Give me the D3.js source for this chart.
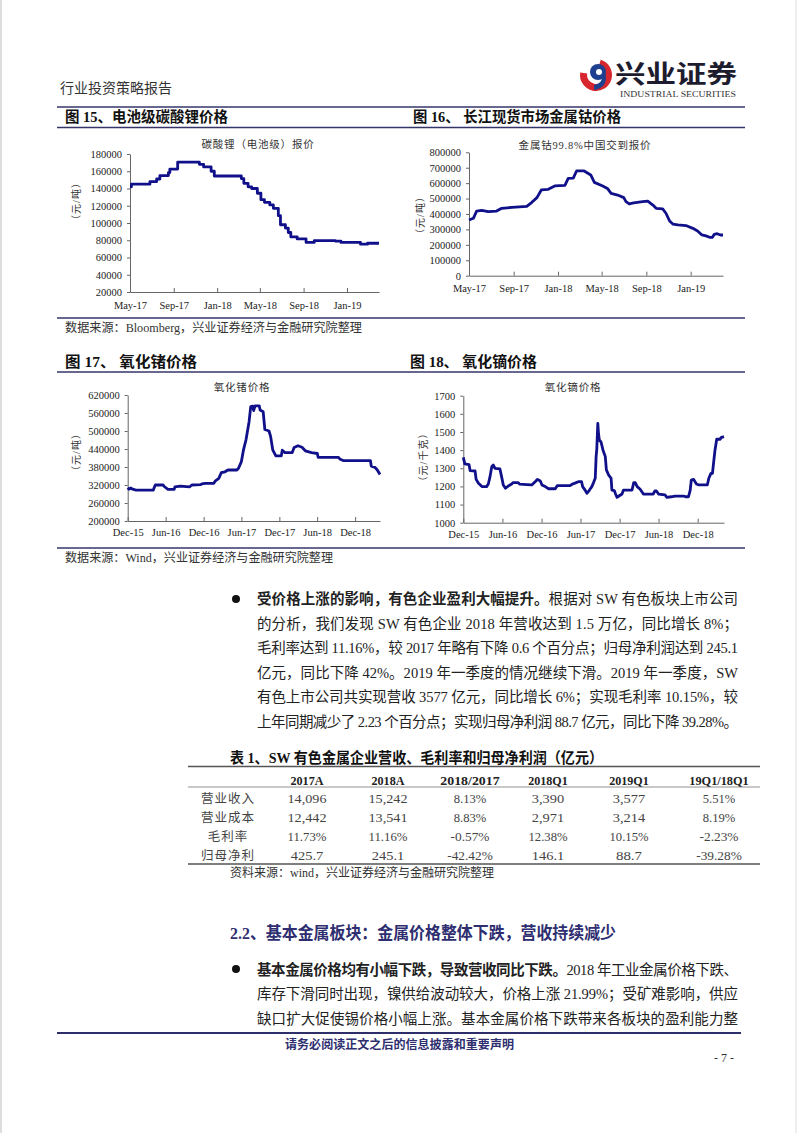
<!DOCTYPE html>
<html><head><meta charset="utf-8">
<script src="https://cdn.jsdelivr.net/npm/d3@7"></script>
<style>
body{margin:0;background:#fff}
svg{display:block}
text{font-family:"Liberation Serif","Noto Sans CJK SC",serif}
</style>
</head><body><script>
// ---------------- DATA ----------------
const lithium = [
["2017-05-01",142000],["2017-05-05",145000],["2017-06-26",148000],["2017-07-15",151000],
["2017-07-24",155000],["2017-08-17",158500],["2017-08-21",162500],["2017-09-12",170500],
["2017-11-12",168000],["2017-11-24",165000],["2017-12-15",160000],["2017-12-24",154500],
["2018-03-10",151500],["2018-03-17",146000],["2018-03-29",142000],["2018-04-08",140000],
["2018-04-24",134500],["2018-05-04",127000],["2018-05-14",124000],["2018-05-29",121000],
["2018-06-08",117000],["2018-06-22",108500],["2018-06-28",98000],["2018-07-12",94000],
["2018-07-20",89000],["2018-07-27",84000],["2018-08-14",81500],["2018-09-08",77500],
["2018-10-01",79500],["2018-11-29",79000],["2018-12-15",77500],["2019-02-08",75500],
["2019-02-28",76500],["2019-04-01",76500]];
const cobalt = [
["2017-05-01",361000],["2017-05-13",372000],["2017-05-22",419000],["2017-06-05",424000],
["2017-06-23",415000],["2017-07-16",419000],["2017-07-30",437000],["2017-08-27",443000],
["2017-10-07",450000],["2017-10-21",476000],["2017-11-04",506000],["2017-11-16",556000],
["2017-12-05",560000],["2017-12-23",582000],["2018-01-20",586000],["2018-01-29",631000],
["2018-02-12",633000],["2018-02-21",679000],["2018-03-14",679000],["2018-04-01",653000],
["2018-04-11",605000],["2018-05-04",582000],["2018-05-17",566000],["2018-05-27",534000],
["2018-06-14",523000],["2018-07-01",506000],["2018-07-07",480000],["2018-07-16",465000],
["2018-07-28",472000],["2018-08-22",480000],["2018-09-05",484000],["2018-09-19",458000],
["2018-09-28",437000],["2018-10-16",433000],["2018-10-25",405000],["2018-11-04",355000],
["2018-11-13",335000],["2018-11-27",329000],["2018-12-19",325000],["2019-01-07",307000],
["2019-01-20",290000],["2019-02-01",264000],["2019-02-12",258000],["2019-02-22",249000],
["2019-03-02",249000],["2019-03-07",268000],["2019-03-15",272000],["2019-03-24",264000],
["2019-03-31",264000]];
const germanium = [
["2015-12-01",311000],["2015-12-08",306000],["2015-12-15",310000],["2015-12-25",306000],
["2016-01-10",303000],["2016-04-02",303000],["2016-04-12",320000],["2016-05-20",320000],
["2016-05-25",315000],["2016-06-12",305500],["2016-07-12",305500],["2016-07-16",314000],
["2016-08-10",316500],["2016-09-25",314000],["2016-10-05",320000],["2016-11-15",321000],
["2016-11-22",323500],["2016-12-09",325500],["2017-01-19",325500],["2017-01-27",334000],
["2017-02-12",342000],["2017-02-24",361000],["2017-03-14",364000],["2017-03-28",370000],
["2017-05-10",370000],["2017-05-18",376000],["2017-06-01",398000],["2017-06-11",437000],
["2017-06-23",470000],["2017-07-08",531000],["2017-07-16",581000],["2017-07-26",583000],
["2017-07-30",568000],["2017-08-06",584000],["2017-08-26",584000],["2017-08-30",570000],
["2017-09-14",564000],["2017-09-22",505000],["2017-10-12",500000],["2017-10-20",481000],
["2017-10-30",437000],["2017-11-14",417000],["2017-12-10",417000],["2017-12-15",436000],
["2017-12-28",428000],["2018-02-01",428000],["2018-02-10",445000],["2018-03-01",451000],
["2018-03-20",446000],["2018-04-05",434000],["2018-05-05",428000],["2018-06-02",425000],
["2018-06-06",412000],["2018-09-12",412000],["2018-09-18",407000],["2018-10-07",401000],
["2019-02-13",401000],["2019-02-17",383000],["2019-03-07",379000],["2019-03-18",370000],
["2019-03-31",355000]];
const dysprosium = [
["2015-12-01",1360],["2015-12-08",1324],["2015-12-28",1320],["2016-01-02",1287],
["2016-01-25",1285],["2016-01-30",1239],["2016-02-10",1217],["2016-02-26",1199],
["2016-03-19",1199],["2016-03-27",1213],["2016-04-04",1254],["2016-04-12",1309],
["2016-04-19",1318],["2016-04-27",1300],["2016-05-20",1297],["2016-05-28",1254],
["2016-06-05",1208],["2016-06-15",1190],["2016-06-28",1202],["2016-07-14",1213],
["2016-07-20",1221],["2016-08-14",1221],["2016-08-20",1213],["2016-09-23",1210],
["2016-10-16",1208],["2016-11-01",1226],["2016-11-12",1239],["2016-11-25",1230],
["2016-12-03",1208],["2016-12-18",1199],["2017-01-03",1187],["2017-02-03",1187],
["2017-02-12",1204],["2017-04-13",1204],["2017-04-25",1213],["2017-05-06",1218],
["2017-05-22",1226],["2017-06-06",1226],["2017-06-11",1199],["2017-06-20",1184],
["2017-07-01",1162],["2017-07-13",1180],["2017-07-24",1199],["2017-08-01",1221],
["2017-08-09",1245],["2017-08-13",1364],["2017-08-16",1401],["2017-08-21",1548],
["2017-08-24",1493],["2017-08-28",1456],["2017-09-05",1445],["2017-09-14",1401],
["2017-09-25",1364],["2017-09-30",1291],["2017-10-10",1264],["2017-10-22",1245],
["2017-10-26",1180],["2017-11-06",1177],["2017-11-12",1158],["2017-11-19",1140],
["2017-11-28",1147],["2017-12-12",1158],["2017-12-19",1180],["2018-01-28",1180],
["2018-02-05",1221],["2018-02-12",1221],["2018-02-21",1199],["2018-03-07",1184],
["2018-03-22",1158],["2018-05-07",1158],["2018-05-15",1175],["2018-05-22",1175],
["2018-06-01",1158],["2018-07-01",1153],["2018-07-10",1140],["2018-07-30",1143],
["2018-08-17",1147],["2018-09-26",1147],["2018-10-05",1143],["2018-10-19",1143],
["2018-10-27",1180],["2018-11-01",1235],["2018-11-12",1239],["2018-11-25",1213],
["2018-12-06",1208],["2019-01-15",1208],["2019-01-22",1245],["2019-02-01",1272],
["2019-02-08",1272],["2019-02-13",1327],["2019-02-20",1401],["2019-02-28",1460],
["2019-03-16",1460],["2019-03-20",1469],["2019-04-03",1474]];

const xTicksAB = ["May-17","Sep-17","Jan-18","May-18","Sep-18","Jan-19"];
const xTicksCD = ["Dec-15","Jun-16","Dec-16","Jun-17","Dec-17","Jun-18","Dec-18"];
const yTicksA = [20000,40000,60000,80000,100000,120000,140000,160000,180000];
const yTicksB = [0,100000,200000,300000,400000,500000,600000,700000,800000];
const yTicksC = [200000,260000,320000,380000,440000,500000,560000,620000];
const yTicksD = [1000,1100,1200,1300,1400,1500,1600,1700];

const tableCols = ["2017A","2018A","2018/2017","2018Q1","2019Q1","19Q1/18Q1"];
const tableRows = ["营业收入","营业成本","毛利率","归母净利"];
const tableVals = [
 ["14,096","15,242","8.13%","3,390","3,577","5.51%"],
 ["12,442","13,541","8.83%","2,971","3,214","8.19%"],
 ["11.73%","11.16%","-0.57%","12.38%","10.15%","-2.23%"],
 ["425.7","245.1","-42.42%","146.1","88.7","-39.28%"]];

// ---------------- DRAW ----------------
const W=802,H=1133;
const svg=d3.select("body").append("svg").attr("width",W).attr("height",H);
svg.append("rect").attr("width",W).attr("height",H).attr("fill","#fff");
const pd=d3.timeParse("%Y-%m-%d"), pm=d3.timeParse("%b-%y");
const NAVY="#34346a", LINE="#10108a", TXT="#222";

// page edges
svg.append("line").attr("x1",1).attr("x2",1).attr("y1",0).attr("y2",H).attr("stroke","#bbb");
svg.append("line").attr("x1",796).attr("x2",796).attr("y1",0).attr("y2",H).attr("stroke","#ddd");

// header
svg.append("text").attr("x",60).attr("y",93).attr("font-size",14).attr("fill","#333")
  .attr("font-family","Noto Sans CJK SC").text("行业投资策略报告");
// logo
const lg=svg.append("g").attr("transform","translate(596,75)");
lg.append("path").attr("d",d3.arc().innerRadius(9).outerRadius(16).startAngle(0.3).endAngle(Math.PI*1.55)())
  .attr("fill","#d7262e");
lg.append("circle").attr("cx",2).attr("cy",-3).attr("r",8).attr("fill","#1f3f8f");
lg.append("circle").attr("cx",3).attr("cy",-3).attr("r",3).attr("fill","#fff");
lg.append("path").attr("d","M9,-2 C12,6 8,14 -2,15 L-2,10 C4,9 7,5 6,0 Z").attr("fill","#1f3f8f");
svg.append("text").attr("x",615).attr("y",83).attr("font-size",25).attr("font-weight","bold")
  .attr("font-family","Noto Sans CJK SC").attr("fill","#1c1c2e").attr("textLength",122)
  .attr("lengthAdjust","spacingAndGlyphs").text("兴业证券");
svg.append("text").attr("x",620).attr("y",97).attr("font-size",7.5).attr("fill","#333")
  .attr("textLength",116).attr("lengthAdjust","spacingAndGlyphs").text("INDUSTRIAL SECURITIES");

function hline(y,x1,x2,w,c){svg.append("line").attr("x1",x1).attr("x2",x2).attr("y1",y).attr("y2",y)
  .attr("stroke",c||NAVY).attr("stroke-width",w||1.5);}
hline(107,57,745,1.6);
hline(127.5,57,745,1.6);
hline(318,57,745,1.6);
hline(372,57,745,1.6);
hline(548,57,745,1.6);

function label(x,y,t,size,opts){
  const e=svg.append("text").attr("x",x).attr("y",y).attr("font-size",size).attr("fill",(opts&&opts.fill)||TXT).text(t);
  if(opts){ if(opts.bold) e.attr("font-weight","bold"); if(opts.anchor) e.attr("text-anchor",opts.anchor);
    if(opts.w) e.attr("textLength",opts.w).attr("lengthAdjust","spacingAndGlyphs");}
  return e;
}
label(65,122,"图 15、电池级碳酸锂价格",14.5,{bold:true,fill:"#111",w:163});
label(413,122,"图 16、 长江现货市场金属钴价格",14.5,{bold:true,fill:"#111",w:208});
label(65,366.5,"图 17、 氧化锗价格",14.5,{bold:true,fill:"#111",w:132});
label(410,366.5,"图 18、 氧化镝价格",14.5,{bold:true,fill:"#111",w:127});
label(65,331.5,"数据来源：Bloomberg，兴业证券经济与金融研究院整理",12.5,{fill:"#333",w:297});
label(65,561.5,"数据来源：Wind，兴业证券经济与金融研究院整理",12.5,{fill:"#333",w:268});

function chart(o){
  const x=d3.scaleTime().domain(o.dom.map(pd)).range([o.l,o.r]);
  const y=d3.scaleLinear().domain(o.yd).range([o.b,o.t]);
  const g=svg.append("g");
  const ya=g.append("g").attr("transform",`translate(${o.l},0)`)
    .call(d3.axisLeft(y).tickValues(o.yt).tickSize(3).tickSizeOuter(0).tickPadding(5).tickFormat(d=>String(d)));
  const xa=g.append("g").attr("transform",`translate(0,${o.b})`)
    .call(d3.axisBottom(x).tickValues(o.xt.map(pm)).tickSizeInner(-4).tickSizeOuter(0).tickPadding(o.xp)
      .tickFormat(d3.timeFormat("%b-%y")));
  [ya,xa].forEach(a=>{
    a.select(".domain").attr("stroke","#666");
    a.selectAll(".tick line").attr("stroke","#666");
    a.selectAll("text").attr("font-size",10.5).attr("fill","#222").attr("font-family","Liberation Serif");
  });
  const line=d3.line().x(d=>x(pd(d[0]))).y(d=>y(d[1])).curve(o.curve||d3.curveLinear);
  g.append("path").datum(o.data).attr("d",line).attr("fill","none").attr("stroke",LINE)
    .attr("stroke-width",2.8).attr("stroke-linejoin","round");
  g.append("text").attr("x",o.tx).attr("y",o.ty).attr("text-anchor","middle").attr("font-size",10.5)
    .attr("fill","#333").attr("letter-spacing",0.8).text(o.title);
  g.append("text").attr("transform",`translate(${o.lx},${o.ly}) rotate(-90)`).attr("text-anchor","middle")
    .attr("font-size",10).attr("fill","#333").attr("letter-spacing",1).text(o.ylabel);
}
chart({data:lithium,dom:["2017-05-01","2019-04-01"],l:130,r:379,b:292,t:154,yd:[20000,180000],yt:yTicksA,
  xt:xTicksAB,xp:9.5,title:"碳酸锂（电池级）报价",tx:258,ty:148,ylabel:"（元/吨）",lx:80,ly:201,curve:d3.curveStepAfter});
chart({data:cobalt,dom:["2017-05-01","2019-03-31"],l:469,r:723,b:275.7,t:152.3,yd:[0,800000],yt:yTicksB,
  xt:xTicksAB,xp:9,title:"金属钴99.8%中国交到报价",tx:585,ty:149,ylabel:"（元/吨）",lx:424,ly:215});
chart({data:germanium,dom:["2015-12-01","2019-03-31"],l:127.7,r:380,b:521,t:395,yd:[200000,620000],yt:yTicksC,
  xt:xTicksCD,xp:8,title:"氧化锗价格",tx:242,ty:391,ylabel:"（元/吨）",lx:80,ly:452});
chart({data:dysprosium,dom:["2015-12-01","2019-04-03"],l:463.3,r:724,b:522.7,t:395.7,yd:[1000,1700],yt:yTicksD,
  xt:xTicksCD,xp:8.3,title:"氧化镝价格",tx:573,ty:391,ylabel:"（元/千克）",lx:427,ly:457});

// paragraphs
function para(x,y,w,segs){
  const t=svg.append("text").attr("x",x).attr("y",y).attr("font-size",14.5).attr("fill",TXT)
    .attr("textLength",w).attr("lengthAdjust","spacing");
  segs.forEach(s=>{const sp=t.append("tspan").text(s[0]); if(s[1]) sp.attr("font-weight","bold");});
}
svg.append("circle").attr("cx",236).attr("cy",599).attr("r",4).attr("fill","#111");
const p1=[
 [["受价格上涨的影响，有色企业盈利大幅提升。",1],["根据对 SW 有色板块上市公司"]],
 [["的分析，我们发现 SW 有色企业 2018 年营收达到 1.5 万亿，同比增长 8%；"]],
 [["毛利率达到 11.16%，较 2017 年略有下降 0.6 个百分点；归母净利润达到 245.1"]],
 [["亿元，同比下降 42%。2019 年一季度的情况继续下滑。2019 年一季度，SW"]],
 [["有色上市公司共实现营收 3577 亿元，同比增长 6%；实现毛利率 10.15%，较"]],
 [["上年同期减少了 2.23 个百分点；实现归母净利润 88.7 亿元，同比下降 39.28%。"]]];
p1.forEach((s,i)=>para(257,604+i*24.5,481,s));

// table
label(230,762.5,"表 1、SW 有色金属企业营收、毛利率和归母净利润（亿元）",15,{bold:true,fill:"#111",w:373});
hline(766.5,188,760,1.5,"#555");
hline(787,188,760,0.8,"#777");
hline(864,188,760,1.5,"#555");
const colX=[307,388,470,548,629,719];
const hdr=svg.append("g");
tableCols.forEach((c,i)=>{
  hdr.append("text").attr("x",colX[i]).attr("y",784.5).attr("text-anchor","middle").attr("font-size",13)
    .attr("font-weight","bold").attr("font-family","Liberation Mono").attr("fill","#222")
    .attr("textLength",c.length*6.6).attr("lengthAdjust","spacingAndGlyphs").text(c);
});
const rowY=[802.5,822,841,859.5];
tableRows.forEach((r,j)=>{
  svg.append("text").attr("x",228).attr("y",rowY[j]).attr("text-anchor","middle").attr("font-size",12.5)
    .attr("font-family","Noto Sans CJK SC").attr("fill","#444").attr("letter-spacing",1).text(r);
  tableVals[j].forEach((v,i)=>{
    svg.append("text").attr("x",colX[i]).attr("y",rowY[j]).attr("text-anchor","middle").attr("font-size",13)
      .attr("font-family","Liberation Mono").attr("fill","#444")
      .attr("textLength",v.length*6.5).attr("lengthAdjust","spacingAndGlyphs").text(v);
  });
});
label(230,877,"资料来源：wind，兴业证券经济与金融研究院整理",12.5,{fill:"#333",w:264});

// section heading
label(230,939,"2.2、基本金属板块：金属价格整体下跌，营收持续减少",17,{bold:true,fill:"#2e2e70",w:386});
svg.append("circle").attr("cx",236).attr("cy",969).attr("r",4).attr("fill","#111");
const p2=[
 [["基本金属价格均有小幅下跌，导致营收同比下跌。",1],["2018 年工业金属价格下跌、"]],
 [["库存下滑同时出现，镍供给波动较大，价格上涨 21.99%；受矿难影响，供应"]],
 [["缺口扩大促使锡价格小幅上涨。基本金属价格下跌带来各板块的盈利能力整"]]];
p2.forEach((s,i)=>para(257,974.5+i*24.5,481,s));

// footer
hline(1033,57,741,2,"#2e2e6a");
label(285,1048.5,"请务必阅读正文之后的信息披露和重要声明",12,{bold:true,fill:"#2e2e70",w:229});
label(724,1062,"- 7 -",12,{fill:"#333",anchor:"middle"});
</script></body></html>
